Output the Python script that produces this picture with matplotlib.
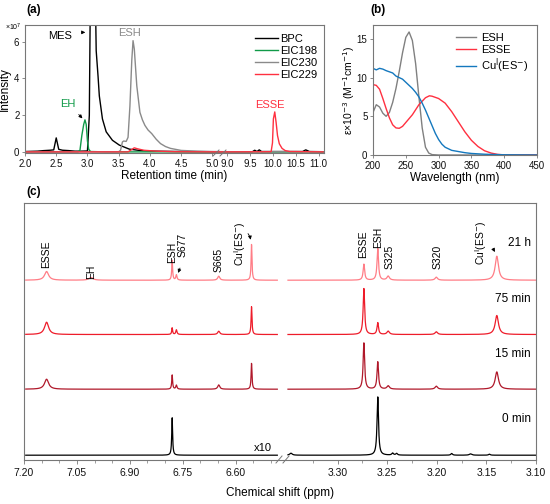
import numpy as np
import matplotlib
matplotlib.use("Agg")
import matplotlib.pyplot as plt
from matplotlib.ticker import FixedLocator, FormatStrFormatter

plt.rcParams['font.family'] = ['Liberation Sans', 'DejaVu Sans']

# ---------------- (a) chromatograms: (time, intensity x1e7) ----------------
bpc_t = [2.0, 2.2, 2.3, 2.4, 2.46, 2.5, 2.54, 2.6, 2.7, 2.8, 2.9, 3.0, 3.03, 3.05, 3.12, 3.14, 3.17,
         3.19, 3.24, 3.30, 3.40, 3.51, 3.67, 3.83, 4.05, 4.5, 5.0, 9.0, 9.55, 9.6, 9.65, 9.7, 9.75,
         10.0, 10.65, 10.72, 10.8, 11.1]
bpc_y = [0.03, 0.05, 0.08, 0.1, 0.12, 0.77, 0.15, 0.1, 0.08, 0.05, 0.05, 0.06, 2.0, 10.0, 10.0, 5.5, 4.1,
         3.05, 1.8, 1.1, 0.64, 0.38, 0.16, 0.09, 0.05, 0.03, 0.02, 0.02, 0.02, 0.1, 0.03, 0.12, 0.03,
         0.03, 0.03, 0.12, 0.03, 0.02]
eic198_t = [2.0, 2.85, 2.88, 2.91, 2.94, 2.96, 2.98, 3.0, 3.02, 3.05, 3.3, 5.0, 9.0, 11.1]
eic198_y = [0.01, 0.01, 0.1, 0.9, 1.5, 1.75, 1.5, 0.6, 0.15, 0.03, 0.01, 0.01, 0.01, 0.01]
eic230_t = [2.0, 3.50, 3.53, 3.56, 3.58, 3.62, 3.65, 3.68, 3.71, 3.73, 3.75, 3.77, 3.79, 3.84, 3.88,
            3.92, 3.97, 4.03, 4.10, 4.17, 4.25, 4.33, 4.5, 4.76, 5.0, 9.0, 11.1]
eic230_y = [0.0, 0.02, 0.1, 0.55, 0.6, 0.58, 0.8, 2.5, 5.0, 6.05, 5.6, 4.6, 3.6, 2.16, 1.75,
            1.45, 1.2, 1.0, 0.7, 0.46, 0.3, 0.2, 0.09, 0.05, 0.03, 0.02, 0.02]
eic229_t = [2.0, 3.65, 3.70, 3.75, 3.80, 3.9, 4.1, 4.4, 5.0, 9.0, 9.96, 9.99, 10.01, 10.04, 10.07,
            10.10, 10.14, 10.20, 10.27, 10.37, 11.1]
eic229_y = [0.01, 0.01, 0.12, 0.23, 0.18, 0.1, 0.05, 0.02, 0.01, 0.01, 0.02, 0.5, 1.8, 2.18, 1.6,
            0.9, 0.45, 0.2, 0.08, 0.03, 0.01]
chrom_labels = ['BPC', 'EIC198', 'EIC230', 'EIC229']
chrom_colors = ['black', '#109a48', '#8a8a8a', '#ff3040']
a_xticks = [2.0, 2.5, 3.0, 3.5, 4.0, 4.5, 5.0, 9.0, 9.5, 10.0, 10.5, 11.0]
a_yticks = [0, 2, 4, 6]

# ---------------- (b) UV-vis spectra ----------------
wl_esh = [200, 205, 210, 215, 220, 225, 230, 235, 240, 245, 250, 255, 260, 265, 270, 275, 280, 285, 290, 300, 450]
eps_esh = [5.5, 6.5, 6.2, 5.4, 5.0, 5.5, 6.8, 8.6, 10.8, 13.2, 15.2, 15.9, 14.8, 11.8, 7.5, 3.5, 1.0, 0.25, 0.05, 0.0, 0.0]
wl_esse = [200, 205, 210, 215, 220, 225, 230, 235, 240, 245, 250, 260, 270, 280, 286, 290, 300, 310, 320,
           330, 340, 350, 360, 370, 380, 390, 400, 450]
eps_esse = [9.1, 9.0, 8.5, 7.3, 6.0, 4.8, 3.9, 3.5, 3.45, 3.7, 4.2, 5.2, 6.5, 7.4, 7.65, 7.6, 7.3, 6.7, 5.6,
            4.3, 3.0, 1.9, 1.1, 0.55, 0.25, 0.08, 0.02, 0.0]
wl_cu = [200, 205, 210, 215, 220, 230, 235, 240, 245, 250, 255, 260, 265, 270, 275, 280, 285, 290, 295,
         300, 305, 310, 320, 330, 340, 350, 370, 400, 450]
eps_cu = [11.2, 11.0, 11.2, 11.1, 10.9, 10.6, 10.2, 10.0, 9.8, 9.4, 9.0, 8.6, 8.1, 7.5, 6.7, 5.8, 4.8, 3.8, 2.8,
          2.0, 1.4, 1.0, 0.6, 0.45, 0.3, 0.2, 0.1, 0.03, 0.0]
uv_labels = ['ESH', 'ESSE', 'Cu$^{\\rm I}$(ES$^{-}$)']
uv_colors = ['#808080', '#ff3040', '#1478be']

# ---------------- (c) 1H NMR: peak lists (ppm, FWHM ppm, heights) ----------------
left_pos = [7.136, 7.010, 6.780, 6.768, 6.648, 6.555]
left_fwhm = [0.014, 0.014, 0.003, 0.004, 0.007, 0.003]
h21_left = [0.87, 0.27, 2.0, 0.53, 0.40, 3.6]
h75_left = [1.23, 0.0, 0.67, 0.47, 0.33, 2.8]
h15_left = [1.0, 0.0, 1.43, 0.40, 0.43, 2.6]
h0_left = [0.0, 0.0, 3.77, 0.0, 0.0, 0.0]
right_pos = [3.2735, 3.2595, 3.249, 3.2005, 3.1395, 3.347, 3.2445, 3.2405, 3.185, 3.166, 3.147]
right_fwhm = [0.0018, 0.0018, 0.003, 0.003, 0.004, 0.003, 0.002, 0.002, 0.002, 0.003, 0.002]
h21_right = [1.6, 3.17, 0.4, 0.3, 2.4, 0, 0, 0, 0, 0, 0]
h75_right = [4.6, 1.17, 0.33, 0.27, 1.9, 0, 0, 0, 0, 0, 0]
h15_right = [4.63, 2.73, 0.33, 0.3, 1.73, 0, 0, 0, 0, 0, 0]
h0_right = [0, 5.83, 0, 0, 0, 0.2, 0.2, 0.17, 0.17, 0.13, 0.1]
trace_names = ['21 h', '75 min', '15 min', '0 min']
trace_offsets = [17.73, 12.3, 6.83, 0.23]
trace_colors = ['#ff7d86', '#ee1c2a', '#b0182a', 'black']
c_major = [7.20, 7.05, 6.90, 6.75, 6.60, 3.30, 3.25, 3.20, 3.15, 3.10]
c_minor = [7.15, 7.10, 7.00, 6.95, 6.85, 6.80, 6.70, 6.65, 6.55, 6.50, 3.325, 3.275, 3.225, 3.175, 3.125]

fig = plt.figure(figsize=(5.5, 5.04), dpi=100)
W, H = 550.0, 504.0


def fax(l, t, r, b):
    return fig.add_axes([l / W, 1 - b / H, (r - l) / W, (b - t) / H])


spine_c = '#777777'

# ================= panel (a) =================
axa = fax(25, 25, 324, 153)
a_fx = [2.0, 5.0, 9.0, 11.5]
a_fp = [2.0, 5.0, 5.24, 5.24 + 2.5 * 0.73]


def a_fwd(x):
    return np.interp(np.asarray(x, float), a_fx, a_fp)


def a_inv(p):
    return np.interp(np.asarray(p, float), a_fp, a_fx)


axa.set_xscale('function', functions=(a_fwd, a_inv))
series = [(bpc_t, bpc_y), (eic198_t, eic198_y), (eic230_t, eic230_y), (eic229_t, eic229_y)]
for (t, y), lab, col in zip(series, chrom_labels, chrom_colors):
    axa.plot(t, y, color=col, lw=1.0, label=lab)
axa.set_xlim(2.0, 11.12)
axa.set_ylim(-0.05, 6.9)
axa.xaxis.set_major_locator(FixedLocator(a_xticks))
axa.xaxis.set_major_formatter(FormatStrFormatter('%.1f'))
axa.yaxis.set_major_locator(FixedLocator(a_yticks))
axa.tick_params(labelsize=7, length=2.5, width=0.6, pad=1.5, color=spine_c, labelcolor='#111111')
axa.set_xlabel('Retention time (min)', fontsize=8.5, labelpad=1)
axa.set_ylabel('Intensity', fontsize=8.5, labelpad=2)
axa.text(-0.04, 0.985, '×10$^7$', transform=axa.transAxes, fontsize=5, ha='center', va='center')
axa.legend(loc='upper right', bbox_to_anchor=(1.0, 0.985), frameon=False, fontsize=8,
           handlelength=2.1, handletextpad=0.2, labelspacing=0.2, borderaxespad=0.2)
axa.annotate('', xy=(3.01, 6.5), xytext=(2.87, 6.5),
             arrowprops=dict(arrowstyle='-|>', color='black', lw=0.6, mutation_scale=5))
axa.text(2.56, 6.3, 'MES', fontsize=8, ha='center', va='center')
axa.text(3.68, 6.45, 'ESH', fontsize=8, ha='center', va='center', color='#8a8a8a')
axa.text(2.68, 2.6, 'EH', fontsize=8, ha='center', va='center', color='#109a48')
axa.annotate('', xy=(2.95, 1.72), xytext=(2.83, 2.15),
             arrowprops=dict(arrowstyle='-|>', color='black', lw=0.6, mutation_scale=5))
axa.text(9.93, 2.55, 'ESSE', fontsize=8, ha='center', va='center', color='#ff3040')
for sp in axa.spines.values():
    sp.set_color(spine_c)
    sp.set_linewidth(0.8)
for xb in (216, 223):
    fig.add_artist(plt.Line2D([(xb - 3) / W, (xb + 3) / W], [1 - 156 / H, 1 - 150 / H],
                              color=spine_c, lw=0.7))

# ================= panel (b) =================
axb = fax(373, 25, 537, 155)
for wl, ep, lab, col in zip([wl_esh, wl_esse, wl_cu], [eps_esh, eps_esse, eps_cu], uv_labels, uv_colors):
    axb.plot(wl, ep, color=col, lw=1.0, label=lab)
axb.set_xlim(200, 450)
axb.set_ylim(0, 16.8)
axb.xaxis.set_major_locator(FixedLocator([200, 250, 300, 350, 400, 450]))
axb.yaxis.set_major_locator(FixedLocator([0, 5, 10, 15]))
axb.tick_params(labelsize=7, length=2.5, width=0.6, pad=1.5, color=spine_c, labelcolor='#111111')
axb.set_xlabel('Wavelength (nm)', fontsize=8.5, labelpad=1)
axb.set_ylabel('ε×10$^{-3}$ (M$^{-1}$cm$^{-1}$)', fontsize=7.5, labelpad=0)
axb.legend(loc='upper right', frameon=False, fontsize=8, handlelength=1.8, handletextpad=0.5,
           labelspacing=0.15, borderaxespad=0.35)
for sp in axb.spines.values():
    sp.set_color(spine_c)
    sp.set_linewidth(0.8)

# ================= panel (c) =================
axc = fax(24, 203, 536, 460)
c_fx = [3.10, 3.352, 6.48, 7.20]
c_fp = [0.0, 250.0, 258.0, 512.0]


def c_fwd(x):
    return np.interp(np.asarray(x, float), c_fx, c_fp)


def c_inv(p):
    return np.interp(np.asarray(p, float), c_fp, c_fx)


axc.set_xscale('function', functions=(c_fwd, c_inv))
xl = np.linspace(7.195, 6.482, 1600)
xr = np.linspace(3.350, 3.100, 2600)


def lor(x, pos, fw, hs):
    y = np.zeros_like(x)
    for p, w, h in zip(pos, fw, hs):
        y += h / (1 + ((x - p) / (w / 2)) ** 2)
    return y


lefts = [h21_left, h75_left, h15_left, h0_left]
rights = [h21_right, h75_right, h15_right, h0_right]
for hl, hr, off, col in zip(lefts, rights, trace_offsets, trace_colors):
    axc.plot(xl, off + lor(xl, left_pos, left_fwhm, hl), color=col, lw=0.9)
    axc.plot(xr, off + lor(xr, right_pos, right_fwhm, hr), color=col, lw=0.9)
axc.set_xlim(7.20, 3.10)
axc.set_ylim(-0.25, 25.45)
axc.xaxis.set_major_locator(FixedLocator(c_major))
axc.xaxis.set_minor_locator(FixedLocator(c_minor))
axc.xaxis.set_major_formatter(FormatStrFormatter('%.2f'))
axc.set_yticks([])
axc.tick_params(axis='x', labelsize=7.5, length=3, width=0.6, pad=2.5, color=spine_c, labelcolor='#111111')
axc.tick_params(axis='x', which='minor', length=1.8, width=0.5, color=spine_c)
axc.set_xlabel('Chemical shift (ppm)', fontsize=8.5, labelpad=7)
for sp in axc.spines.values():
    sp.set_color(spine_c)
    sp.set_linewidth(0.8)

lbl = dict(fontsize=7.5, rotation=90, ha='center', va='center')
axc.text(7.136, 20.35, 'ESSE', **lbl)
axc.text(7.010, 18.6, 'EH', **lbl)
axc.text(6.780, 20.5, 'ESH', **lbl)
axc.text(6.751, 21.25, 'S677', **lbl)
axc.text(6.648, 19.75, 'S665', **lbl)
axc.text(6.588, 21.35, 'Cu$^{\\rm I}$(ES$^{-}$)', **lbl)
axc.annotate('', xy=(6.766, 18.2), xytext=(6.755, 19.2),
             arrowprops=dict(arrowstyle='-|>', color='black', lw=0.6, mutation_scale=5))
axc.annotate('', xy=(6.557, 21.5), xytext=(6.570, 22.6),
             arrowprops=dict(arrowstyle='-|>', color='black', lw=0.6, mutation_scale=5,
                             connectionstyle='arc3,rad=-0.2'))
axc.text(3.2745, 21.35, 'ESSE', **lbl)
axc.text(3.2594, 22.05, 'ESH', **lbl)
axc.text(3.248, 20.1, 'S325', **lbl)
axc.text(3.1995, 20.1, 'S320', **lbl)
axc.text(3.1555, 21.45, 'Cu$^{\\rm I}$(ES$^{-}$)', **lbl)
axc.annotate('', xy=(3.1402, 20.3), xytext=(3.1444, 21.1),
             arrowprops=dict(arrowstyle='-|>', color='black', lw=0.6, mutation_scale=5))
for name, yv in zip(trace_names, [21.45, 15.85, 10.35, 3.85]):
    axc.text(3.105, yv, name, fontsize=8.5, ha='right', va='center')
axc.text(6.524, 0.95, 'x10', fontsize=8, ha='center', va='center')
for xb in (279, 286):
    fig.add_artist(plt.Line2D([(xb - 3) / W, (xb + 3) / W], [1 - 463 / H, 1 - 456 / H],
                              color=spine_c, lw=0.7))

# panel labels
fig.text(34 / W, 1 - 10 / H, '(a)', fontsize=8.5, fontweight='bold', ha='center', va='center')
fig.text(378 / W, 1 - 10 / H, '(b)', fontsize=8.5, fontweight='bold', ha='center', va='center')
fig.text(34 / W, 1 - 192 / H, '(c)', fontsize=8.5, fontweight='bold', ha='center', va='center')

fig.savefig('out.png', dpi=100)
